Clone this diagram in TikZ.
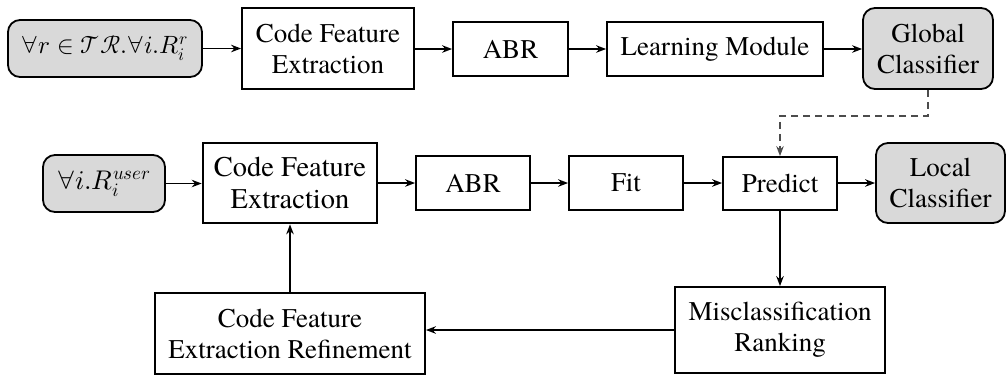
\documentclass[tikz,border=0pt]{standalone}
\usepackage{fontspec}
\IfFontExistsTF{texgyretermes-regular.otf}{\setmainfont{texgyretermes-regular.otf}[ItalicFont=texgyretermes-italic.otf]}{\setmainfont{Liberation Serif}}
\usepackage{unicode-math}
\IfFontExistsTF{texgyretermes-math.otf}{\setmathfont{texgyretermes-math.otf}\setmathfont{latinmodern-math.otf}[range=cal]}{}
\usetikzlibrary{arrows.meta}
\tikzset{
  box/.style={draw, line width=1.8pt, align=center, inner sep=0pt, font=\fontsize{27}{31}\selectfont},
  gbox/.style={box, fill=gray!30, rounded corners=12pt},
  tbox/.style={box, line width=2.6pt, font=\fontsize{28.5}{32}\selectfont},
  arr/.style={-{Stealth[length=10pt,width=7.5pt]}, line width=1.8pt},
  darr/.style={arr, dashed, dash pattern=on 7pt off 5pt, draw=black!70, line width=1.3pt}
}
\begin{document}
\begin{tikzpicture}[x=1pt,y=-1pt]
\useasboundingbox (0,0) rectangle (1008,376);
% top row
\node[gbox, minimum width=194pt, minimum height=57pt, font=\fontsize{25}{30}\selectfont] (in1) at (105,48.5) {$\forall r \in \mathcal{T}\mathcal{R}.\forall i.R_i^r$};
\node[box, minimum width=172pt, minimum height=81pt] (cfe1) at (328,48.5) {Code Feature\\Extraction};
\node[box, minimum width=115pt, minimum height=54pt] (abr1) at (510.5,49) {ABR};
\node[box, minimum width=216pt, minimum height=54pt] (lm) at (715,49) {Learning Module};
\node[gbox, minimum width=130pt, minimum height=81pt] (gc) at (928,48.5) {Global\\Classifier};
% middle row
\node[gbox, minimum width=122pt, minimum height=57pt] (in2) at (104,183.5) {$\forall i.R_i^{user}$};
\node[tbox, minimum width=174pt, minimum height=80pt] (cfe2) at (290,183) {Code Feature\\Extraction};
\node[box, minimum width=114pt, minimum height=54pt] (abr2) at (473,183) {ABR};
\node[box, minimum width=114pt, minimum height=54pt] (fit) at (626,183) {Fit};
\node[box, minimum width=114pt, minimum height=53pt] (pred) at (780,183.5) {Predict};
\node[gbox, minimum width=129pt, minimum height=80pt] (lc) at (940.5,183) {Local\\Classifier};
% bottom row
\node[box, minimum width=210pt, minimum height=86pt] (mr) at (780,330) {Misclassification\\Ranking};
\node[box, minimum width=270pt, minimum height=81pt] (ref) at (290,333.5) {Code Feature\\Extraction Refinement};
% connectors
\draw[arr] (in1) -- (cfe1);
\draw[arr] (cfe1.east |- abr1.west) -- (abr1);
\draw[arr] (abr1) -- (lm);
\draw[arr] (lm) -- (gc.west |- lm.east);
\coordinate (d1) at (928,116);
\coordinate (d2) at (780,116);
\draw[darr] (gc.south) -- (d1) -- (d2) -- (pred.north);
\draw[arr] (in2) -- (cfe2.west |- in2.east);
\draw[arr] (cfe2) -- (abr2);
\draw[arr] (abr2) -- (fit);
\draw[arr] (fit) -- (pred.west |- fit.east);
\draw[arr] (pred.east |- lc.west) -- (lc);
\draw[arr] (pred) -- (mr);
\draw[arr] (mr.west) -- (mr.west -| ref.east);
\draw[arr] (ref) -- (cfe2);
\end{tikzpicture}
\end{document}
